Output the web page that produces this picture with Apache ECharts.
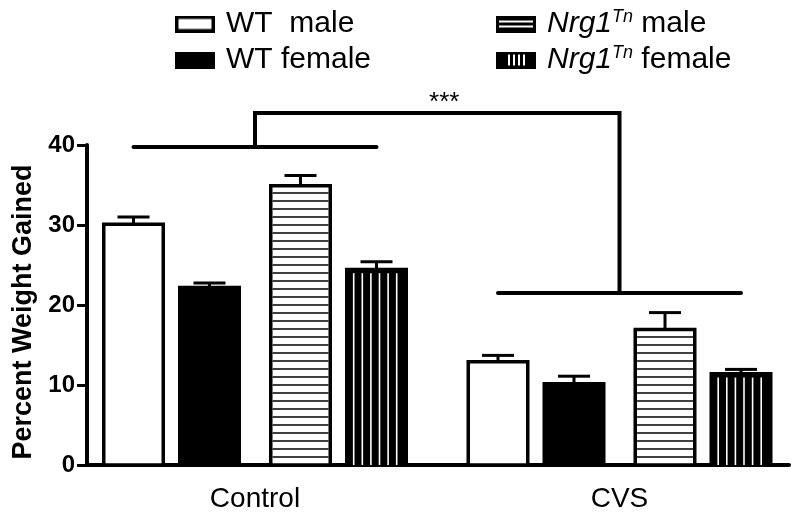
<!DOCTYPE html>
<html><head><meta charset="utf-8">
<script src="https://cdn.jsdelivr.net/npm/echarts@6/dist/echarts.min.js"></script>
<style>html,body{margin:0;padding:0;background:#fff}#c{width:800px;height:521px}</style>
</head><body><div id="c"></div>
<script>
// ---- data ----
const groups = ['Control', 'CVS'];
const seriesNames = ['WT  male', 'WT female', 'Nrg1Tn male', 'Nrg1Tn female'];
const wtMale = [30.1, 12.9];
const wtMaleSem = [0.9, 0.8];
const wtFemale = [22.2, 10.15];
const wtFemaleSem = [0.55, 0.95];
const nrgMale = [34.9, 16.95];
const nrgMaleSem = [1.3, 2.1];
const nrgFemale = [24.45, 11.4];
const nrgFemaleSem = [0.95, 0.55];
const yTicks = [0, 10, 20, 30, 40];
const groupLevels = [39.75, 21.5];
const topLevel = 44;
const sigLabel = '***';

// ---- layout ----
const FONT = "'Liberation Sans', Arial, sans-serif";
const OFFS = [-121.5, -45.5, 45.5, 121.5];
const BW = 59.5, SW = 3.5;
const GRID_L = 87, GRID_R = 11;
const PX_PER_GROUP = 364.5, FIRST_CENTER = 168;
const XMIN = -FIRST_CENTER / PX_PER_GROUP;
const XMAX = XMIN + (800 - GRID_L - GRID_R) / PX_PER_GROUP;

function makeBarRender(k, kind) {
  return function (params, api) {
    const x = api.value(0), m = api.value(1), s = api.value(2);
    const base = api.coord([x, 0]);
    const top = api.coord([x, m]);
    const err = api.coord([x, m + s]);
    const cx = base[0] + OFFS[k];
    const left = cx - BW / 2;
    const ch = [];
    ch.push({type: 'rect', shape: {x: left, y: top[1], width: BW, height: base[1] - top[1]},
      style: {fill: (kind === 'solid' || kind === 'v') ? '#000' : '#fff', stroke: '#000', lineWidth: SW}});
    if (kind === 'h') {
      for (let y = base[1] - 8; y > top[1] + 4; y -= 8) {
        ch.push({type: 'line', shape: {x1: left + SW / 2, y1: y, x2: left + BW - SW / 2, y2: y},
          style: {stroke: '#000', lineWidth: 1.4}});
      }
    }
    if (kind === 'v') {
      for (let i = 0; i < 6; i++) {
        const lx = cx - 22.8 + i * 8.6;
        ch.push({type: 'line', shape: {x1: lx, y1: top[1] + SW / 2 + 2, x2: lx, y2: base[1]},
          style: {stroke: '#fff', lineWidth: 1.6}});
      }
    }
    ch.push({type: 'line', shape: {x1: cx, y1: top[1], x2: cx, y2: err[1]}, style: {stroke: '#000', lineWidth: 3}});
    ch.push({type: 'line', shape: {x1: cx - 16, y1: err[1], x2: cx + 16, y2: err[1]}, style: {stroke: '#000', lineWidth: 3}});
    return {type: 'group', children: ch};
  };
}

function sigRender(params, api) {
  const x = api.value(0), lv = api.value(1);
  const c = api.coord([x, lv]);
  const ch = [{type: 'line', shape: {x1: c[0] + OFFS[0], y1: c[1], x2: c[0] + OFFS[3], y2: c[1]},
    style: {stroke: '#000', lineWidth: 4, lineCap: 'round'}}];
  if (params.dataIndex === 0) {
    const a = api.coord([0, topLevel]);
    const b = api.coord([groups.length - 1, topLevel]);
    const bl = api.coord([groups.length - 1, groupLevels[groups.length - 1]]);
    ch.push({type: 'polyline', shape: {points: [[c[0], c[1]], [a[0], a[1]], [b[0], b[1]], [bl[0], bl[1]]]},
      style: {stroke: '#000', lineWidth: 4, fill: 'none', lineJoin: 'miter'}});
    ch.push({type: 'text', x: (a[0] + b[0]) / 2 + 7, y: a[1] - 10.5,
      style: {text: sigLabel, fontSize: 26, fontFamily: FONT, fill: '#000', align: 'center', verticalAlign: 'middle'}});
  }
  return {type: 'group', children: ch};
}

function iconURL(kind) {
  const c = document.createElement('canvas');
  c.width = 46; c.height = 17;
  const g = c.getContext('2d');
  g.fillStyle = '#000';
  g.fillRect(0, 0, 40, 17);
  g.fillStyle = '#fff';
  if (kind === 'open') g.fillRect(3.5, 3.5, 33, 10);
  if (kind === 'h') { g.fillRect(3, 5, 34, 2); g.fillRect(3, 10, 34, 2); }
  if (kind === 'v') { for (let i = 0; i < 4; i++) g.fillRect(12 + i * 5, 3, 2, 11); }
  return 'image://' + c.toDataURL();
}

const kinds = ['open', 'solid', 'h', 'v'];
const means = [wtMale, wtFemale, nrgMale, nrgFemale];
const sems = [wtMaleSem, wtFemaleSem, nrgMaleSem, nrgFemaleSem];

const series = seriesNames.map((n, k) => ({
  type: 'custom', name: n, renderItem: makeBarRender(k, kinds[k]),
  encode: {x: 0, y: 1},
  data: groups.map((g, i) => [i, means[k][i], sems[k][i]])
}));
series.push({type: 'custom', name: 'sig', renderItem: sigRender, encode: {x: 0, y: 1}, clip: false,
  data: groups.map((g, i) => [i, groupLevels[i]])});

const richStyles = {
  n: {fontSize: 30, fontFamily: FONT, color: '#000', lineHeight: 32},
  it: {fontSize: 30, fontFamily: FONT, fontStyle: 'italic', color: '#000', lineHeight: 32},
  sup: {fontSize: 18, fontFamily: FONT, fontStyle: 'italic', color: '#000', verticalAlign: 'top', lineHeight: 18}
};
function fmt(name) {
  if (name.indexOf('Nrg1Tn') === 0) return '{it|Nrg1}{sup|Tn}{n|' + name.slice(6) + '}';
  return '{n|' + name + '}';
}
const legendBase = {orient: 'vertical', top: 8, padding: 0, itemWidth: 46, itemHeight: 17, itemGap: 4,
  selectedMode: false, formatter: fmt, textStyle: {fontSize: 30, fontFamily: FONT, color: '#000', lineHeight: 32, rich: richStyles}};

const chart = echarts.init(document.getElementById('c'), null, {renderer: 'canvas'});
chart.setOption({
  backgroundColor: '#fff',
  animation: false,
  legend: [
    Object.assign({}, legendBase, {left: 175, data: [{name: seriesNames[0], icon: iconURL('open')}, {name: seriesNames[1], icon: iconURL('solid')}]}),
    Object.assign({}, legendBase, {left: 496, data: [{name: seriesNames[2], icon: iconURL('h')}, {name: seriesNames[3], icon: iconURL('v')}]})
  ],
  grid: {left: GRID_L, right: GRID_R, top: 145, bottom: 56, containLabel: false},
  xAxis: {type: 'value', min: XMIN, max: XMAX,
    axisLine: {show: true, onZero: false, lineStyle: {color: '#000', width: 4}},
    axisTick: {show: false}, splitLine: {show: false},
    axisLabel: {customValues: [0, 1], formatter: v => groups[Math.round(v)], fontSize: 28, color: '#000', margin: 20, fontFamily: FONT}},
  yAxis: {type: 'value', min: 0, max: 40, interval: 10,
    name: 'Percent Weight Gained', nameLocation: 'middle', nameGap: 50, nameRotate: 90,
    nameTextStyle: {fontSize: 27, fontWeight: 'bold', color: '#000', fontFamily: FONT, padding: [0, 14, 0, 0]},
    axisLine: {show: true, onZero: false, lineStyle: {color: '#000', width: 4}},
    axisTick: {show: true, length: 10, customValues: yTicks, lineStyle: {color: '#000', width: 3}},
    axisLabel: {customValues: yTicks, fontSize: 24, fontWeight: 'bold', color: '#000', margin: 12, fontFamily: FONT},
    splitLine: {show: false}},
  series: series
});
</script></body></html>
